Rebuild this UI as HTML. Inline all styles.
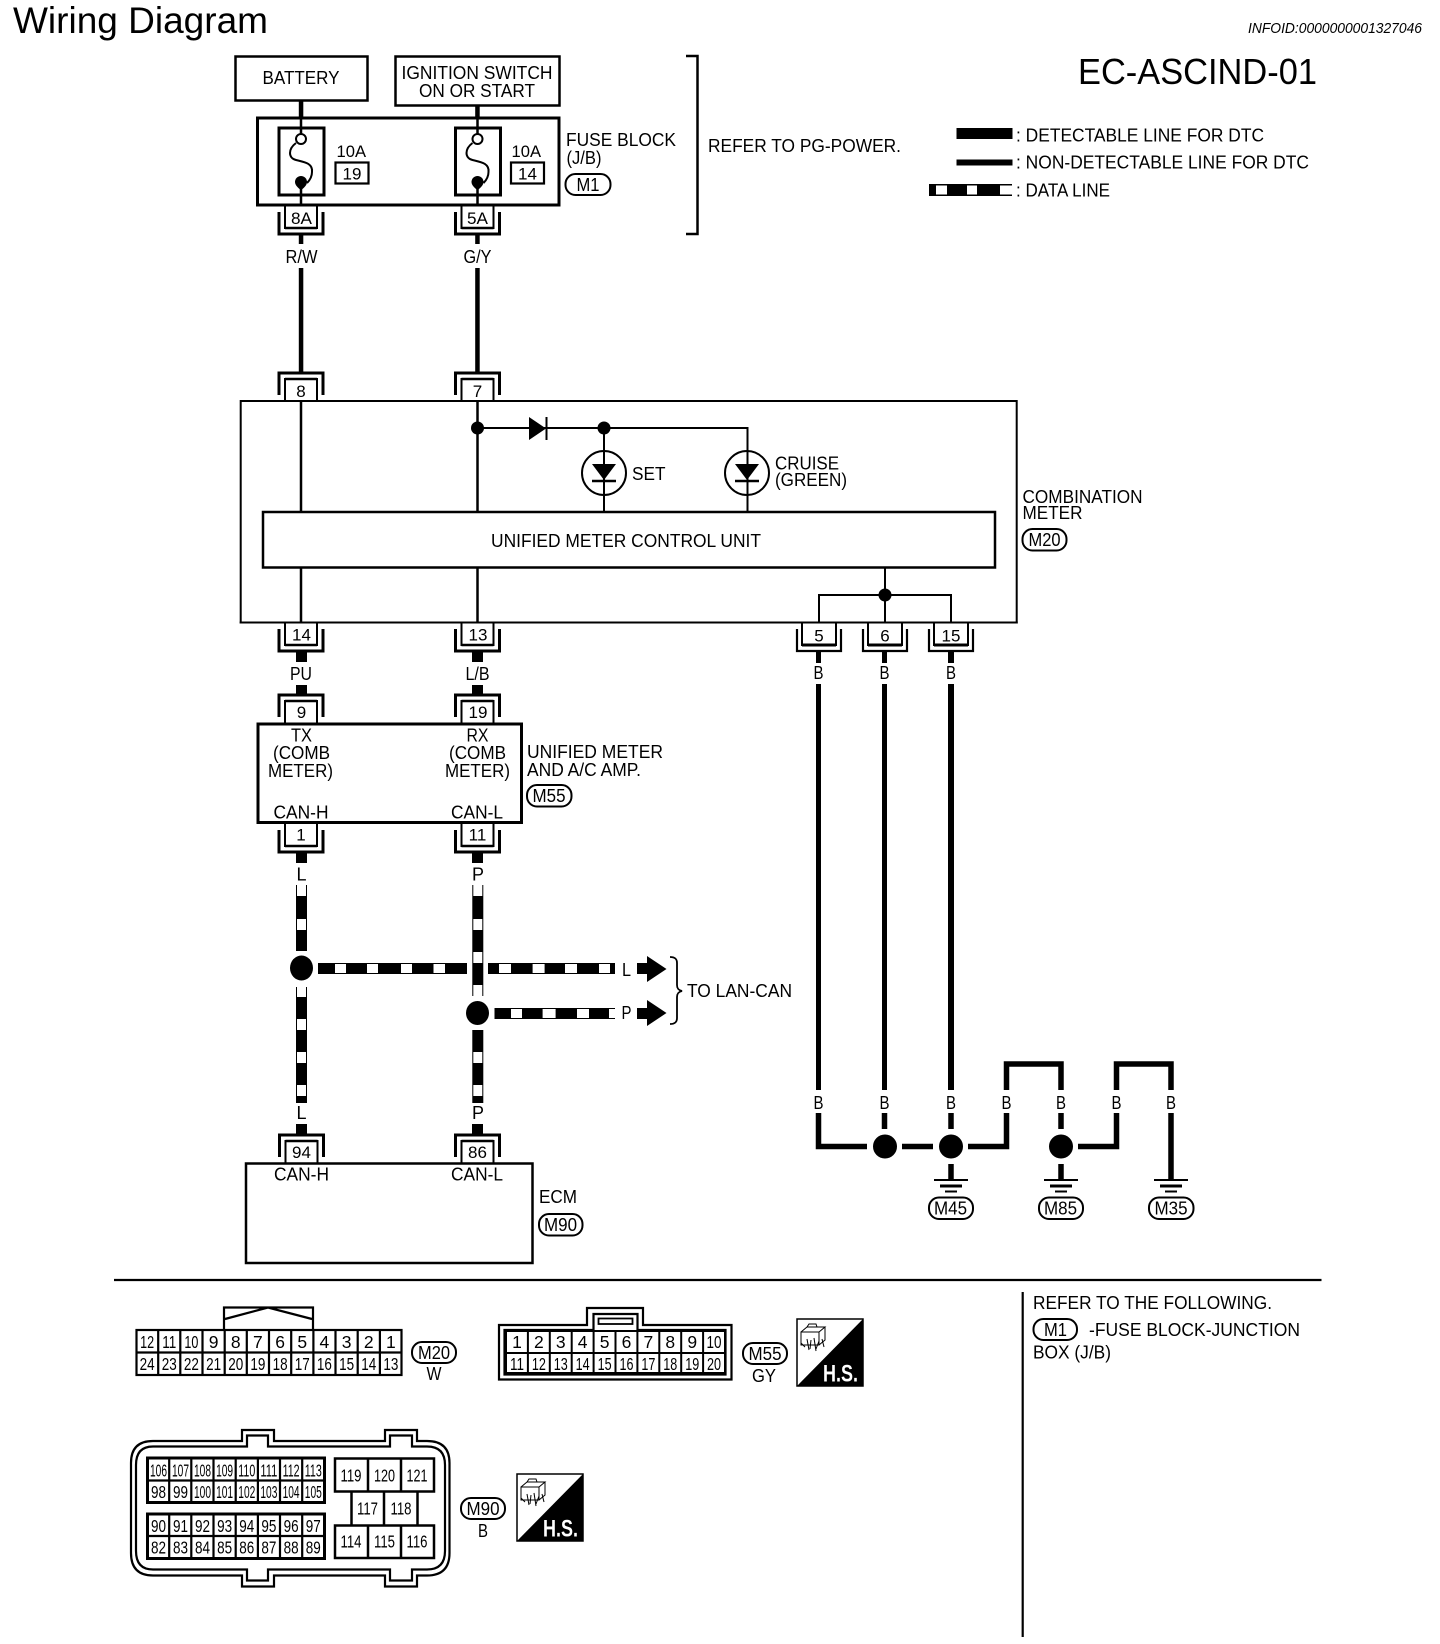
<!DOCTYPE html>
<html lang="en"><head><meta charset="utf-8"><title>Wiring Diagram EC-ASCIND-01</title>
<style>
html,body{margin:0;padding:0;background:#fff}
svg{display:block}
text{font-family:"Liberation Sans",sans-serif;font-size:18px;fill:#000}
.m{text-anchor:middle}
.n{font-size:17.500px;text-anchor:middle}
.c{font-size:17px;text-anchor:middle}
</style></head><body>
<svg xmlns="http://www.w3.org/2000/svg" width="1440" height="1644" viewBox="0 0 1440 1644">
<defs>
<g id="cd"><path d="M-22 7V29H22V7" fill="none" stroke="#000" stroke-width="3"/><path d="M-16 0V23H16V0" fill="#fff" stroke="#000" stroke-width="2"/><path d="M-16 23H16" stroke="#000" stroke-width="2.500"/></g>
<g id="cd2"><path d="M-22 7V29H22V7" fill="none" stroke="#000" stroke-width="2.200"/><path d="M-17 0V23H17V0" fill="#fff" stroke="#000" stroke-width="2"/><path d="M-17 23H17" stroke="#000" stroke-width="3"/></g>
<g id="cu"><path d="M-22 -6V-28H22V-6" fill="none" stroke="#000" stroke-width="3"/><path d="M-16 0V-22H16V0" fill="#fff" stroke="#000" stroke-width="2"/><path d="M-16 -22H16" stroke="#000" stroke-width="2.500"/></g>
<g id="fuse"><rect x="279" y="128" width="45" height="67" fill="#fff" stroke="#000" stroke-width="3"/><path d="M301 117V134M301 184V206" stroke="#000" stroke-width="2.500" fill="none"/><circle cx="301" cy="139" r="5" fill="#fff" stroke="#000" stroke-width="2"/><path d="M296 143C288 149 288 158 296 160C304 162 313 163 312 172C312 176 310 180 307 183" fill="none" stroke="#000" stroke-width="2"/><path d="M295 182a6 6 0 0 1 12 0c0 3-3 6-6 8c-3-2-6-5-6-8z" fill="#000"/></g>
<g id="led"><circle cx="0" cy="0" r="22" fill="none" stroke="#000" stroke-width="2"/><path d="M-12 -9H12L0 7Z" fill="#000"/><path d="M-12 8H12" stroke="#000" stroke-width="2.500"/></g>
<g id="gnd" stroke="#000" fill="none"><path d="M-17 0H17" stroke-width="2"/><path d="M-11 6H11" stroke-width="3"/><path d="M-6 11.500H6" stroke-width="2"/></g>
<g id="hs"><rect x="0" y="0" width="66" height="67" fill="#fff" stroke="#000" stroke-width="1.500"/><path d="M66 0V67H0Z" fill="#000"/><g fill="none" stroke="#000" stroke-width="1"><path d="M4 13H22V26H4ZM4 13L10 8H28L22 13M28 8V21L22 26M10 8L12 5H19L20 8M4 13V24L8 28"/><path d="M10 20L12 31M14 21L13 30M17 19L19 32M22 22L19 30M25 20L27 28"/></g></g>
</defs>

<!-- Headers -->
<text x="13" y="33" style="font-size:37px" textLength="255" lengthAdjust="spacingAndGlyphs">Wiring Diagram</text>
<text x="1248" y="33" style="font-size:14.500px;font-style:italic" textLength="174" lengthAdjust="spacingAndGlyphs">INFOID:0000000001327046</text>
<text x="1078" y="84" style="font-size:36px" textLength="239" lengthAdjust="spacingAndGlyphs">EC-ASCIND-01</text>

<!-- Legend -->
<rect x="956.500" y="128" width="56" height="11" fill="#000"/>
<rect x="956.500" y="159.500" width="56" height="6" fill="#000"/>
<rect x="929" y="184" width="83" height="12" fill="#000"/>
<rect x="936" y="185.500" width="11" height="9" fill="#fff"/><rect x="967" y="185.500" width="10" height="9" fill="#fff"/><rect x="1000" y="185.500" width="13" height="9" fill="#fff"/>
<text x="1016" y="141.500" textLength="248" lengthAdjust="spacingAndGlyphs">: DETECTABLE LINE FOR DTC</text>
<text x="1016" y="168.500" textLength="293" lengthAdjust="spacingAndGlyphs">: NON-DETECTABLE LINE FOR DTC</text>
<text x="1016" y="196.500" textLength="94" lengthAdjust="spacingAndGlyphs">: DATA LINE</text>

<!-- Supply boxes -->
<rect x="235.500" y="56.500" width="132" height="44" fill="#fff" stroke="#000" stroke-width="2.500"/>
<text class="m" x="301" y="84" textLength="77" lengthAdjust="spacingAndGlyphs">BATTERY</text>
<rect x="395.500" y="56.500" width="164" height="49" fill="#fff" stroke="#000" stroke-width="2.500"/>
<text class="m" x="477" y="79" textLength="151" lengthAdjust="spacingAndGlyphs">IGNITION SWITCH</text>
<text class="m" x="477" y="97" textLength="116" lengthAdjust="spacingAndGlyphs">ON OR START</text>
<rect x="298.800" y="100" width="4.500" height="18" fill="#000"/>
<rect x="475.200" y="105" width="4.500" height="13" fill="#000"/>

<!-- Fuse block -->
<rect x="257.500" y="118" width="301.500" height="87" fill="#fff" stroke="#000" stroke-width="3"/>
<use href="#fuse"/>
<use href="#fuse" x="176.500"/>
<text x="336.500" y="157" style="font-size:17px" textLength="29.500" lengthAdjust="spacingAndGlyphs">10A</text>
<rect x="335.500" y="162.500" width="33" height="21" fill="#fff" stroke="#000" stroke-width="2.200"/>
<text class="c" x="352" y="179.500">19</text>
<text x="511.500" y="157" style="font-size:17px" textLength="29.500" lengthAdjust="spacingAndGlyphs">10A</text>
<rect x="511" y="162.500" width="33" height="21" fill="#fff" stroke="#000" stroke-width="2.200"/>
<text class="c" x="527.500" y="179.500">14</text>
<text x="566" y="146" textLength="110" lengthAdjust="spacingAndGlyphs">FUSE BLOCK</text>
<text x="566.500" y="164" textLength="35" lengthAdjust="spacingAndGlyphs">(J/B)</text>
<rect x="565.500" y="174" width="45" height="21" rx="10" fill="#fff" stroke="#000" stroke-width="2"/>
<text class="m" x="588" y="191" textLength="23" lengthAdjust="spacingAndGlyphs">M1</text>

<!-- Bracket -->
<path d="M686 56H697.500V234H686" fill="none" stroke="#000" stroke-width="2.500"/>
<text x="708" y="152" textLength="193" lengthAdjust="spacingAndGlyphs">REFER TO PG-POWER.</text>

<!-- 8A / 5A -->
<use href="#cd" x="301" y="205"/><use href="#cd" x="477.500" y="205"/>
<path d="M256 205H560" stroke="#000" stroke-width="3"/>
<text class="c" x="301.500" y="224" textLength="21" lengthAdjust="spacingAndGlyphs">8A</text>
<text class="c" x="477.500" y="224" textLength="21" lengthAdjust="spacingAndGlyphs">5A</text>
<rect x="298.800" y="234" width="4.500" height="10" fill="#000"/>
<rect x="475.200" y="234" width="4.500" height="10" fill="#000"/>
<text class="m" x="301.500" y="263" textLength="32" lengthAdjust="spacingAndGlyphs">R/W</text>
<text class="m" x="477.500" y="263" textLength="28" lengthAdjust="spacingAndGlyphs">G/Y</text>
<rect x="298.800" y="268" width="4.500" height="105" fill="#000"/>
<rect x="475.200" y="268" width="4.500" height="105" fill="#000"/>
<use href="#cu" x="301" y="401"/><use href="#cu" x="477.500" y="401"/>
<text class="c" x="301" y="397">8</text>
<text class="c" x="477.500" y="397">7</text>

<!-- Combination meter -->
<rect x="240.700" y="401" width="776" height="221.500" fill="none" stroke="#000" stroke-width="2"/>
<path d="M301 401V512M477.500 401V512M301 568V622M477.500 568V622" stroke="#000" stroke-width="2.500" fill="none"/>
<path d="M477 428H747.500V512M604 428V512" stroke="#000" stroke-width="2" fill="none"/>
<ellipse cx="477.500" cy="428" rx="6.500" ry="6.500" fill="#000"/>
<circle cx="604" cy="428" r="6.500" fill="#000"/>
<path d="M529 417L546 428.500L529 440Z" fill="#000"/><path d="M546.500 417V440" stroke="#000" stroke-width="2"/>
<use href="#led" x="604" y="473"/><use href="#led" x="747" y="473"/>
<text x="632" y="480" textLength="33.500" lengthAdjust="spacingAndGlyphs">SET</text>
<text x="775" y="469.500" textLength="64" lengthAdjust="spacingAndGlyphs">CRUISE</text>
<text x="775" y="486" textLength="72" lengthAdjust="spacingAndGlyphs">(GREEN)</text>
<rect x="263" y="512" width="732" height="55.500" fill="#fff" stroke="#000" stroke-width="2.500"/>
<text x="491" y="547" textLength="270" lengthAdjust="spacingAndGlyphs">UNIFIED METER CONTROL UNIT</text>
<path d="M885 568V622M819 622V595H951V622" stroke="#000" stroke-width="2" fill="none"/>
<circle cx="885" cy="595" r="6.500" fill="#000"/>
<text x="1022.500" y="503" textLength="120" lengthAdjust="spacingAndGlyphs">COMBINATION</text>
<text x="1022.500" y="519" textLength="60" lengthAdjust="spacingAndGlyphs">METER</text>
<rect x="1022.500" y="529" width="44" height="21.500" rx="10" fill="#fff" stroke="#000" stroke-width="2"/>
<text class="m" x="1044.500" y="546" textLength="32" lengthAdjust="spacingAndGlyphs">M20</text>

<!-- Meter connectors -->
<use href="#cd" x="301" y="622"/><use href="#cd" x="477.500" y="622"/>
<use href="#cd2" x="819" y="622"/><use href="#cd2" x="885" y="622"/><use href="#cd2" x="951" y="622"/>
<path d="M239.700 622.500H1017.700" stroke="#000" stroke-width="2"/>
<text class="c" x="301.500" y="640.500">14</text>
<text class="c" x="478" y="640.500">13</text>
<text class="c" x="819" y="641.500">5</text>
<text class="c" x="885" y="641.500">6</text>
<text class="c" x="951" y="641.500">15</text>

<!-- PU / L/B -->
<rect x="296" y="651" width="11" height="11" fill="#000"/><rect x="472" y="651" width="11" height="11" fill="#000"/>
<text class="m" x="301" y="680" textLength="22" lengthAdjust="spacingAndGlyphs">PU</text>
<text class="m" x="477.500" y="680" textLength="24" lengthAdjust="spacingAndGlyphs">L/B</text>
<rect x="296" y="685" width="11" height="10" fill="#000"/><rect x="472" y="685" width="11" height="10" fill="#000"/>
<use href="#cu" x="301" y="723"/><use href="#cu" x="477.500" y="723"/>
<text class="c" x="301.500" y="718">9</text>
<text class="c" x="478" y="718">19</text>

<!-- Unified meter unit -->
<rect x="258" y="724" width="263.500" height="98.500" fill="#fff" stroke="#000" stroke-width="3"/>
<text class="m" x="301.500" y="741.500" textLength="21" lengthAdjust="spacingAndGlyphs">TX</text>
<text class="m" x="477.500" y="741.500" textLength="22" lengthAdjust="spacingAndGlyphs">RX</text>
<text class="m" x="301.500" y="759" textLength="57" lengthAdjust="spacingAndGlyphs">(COMB</text>
<text class="m" x="477.500" y="759" textLength="57" lengthAdjust="spacingAndGlyphs">(COMB</text>
<text class="m" x="300.500" y="777" textLength="65" lengthAdjust="spacingAndGlyphs">METER)</text>
<text class="m" x="477.500" y="777" textLength="65" lengthAdjust="spacingAndGlyphs">METER)</text>
<text class="m" x="301" y="818.500" textLength="55" lengthAdjust="spacingAndGlyphs">CAN-H</text>
<text class="m" x="477" y="818.500" textLength="52" lengthAdjust="spacingAndGlyphs">CAN-L</text>
<text x="527" y="758" textLength="136" lengthAdjust="spacingAndGlyphs">UNIFIED METER</text>
<text x="527" y="776" textLength="114" lengthAdjust="spacingAndGlyphs">AND A/C AMP.</text>
<rect x="527" y="785" width="44.500" height="21.500" rx="10" fill="#fff" stroke="#000" stroke-width="2"/>
<text class="m" x="549" y="802" textLength="33" lengthAdjust="spacingAndGlyphs">M55</text>
<use href="#cd" x="301" y="823"/><use href="#cd" x="477.500" y="823"/>
<path d="M256.500 822.500H523" stroke="#000" stroke-width="3"/>
<text class="c" x="301" y="840.500">1</text>
<text class="c" x="477.500" y="840.500">11</text>
<rect x="296" y="852" width="11" height="11" fill="#000"/><rect x="472" y="852" width="11" height="11" fill="#000"/>
<text class="m" x="301.500" y="880.500">L</text><text class="m" x="478" y="880.500">P</text>

<!-- Data lines vertical 1 -->
<rect x="296" y="885" width="11" height="66" fill="#000"/>
<rect x="297" y="885" width="9" height="11" fill="#fff"/><rect x="297" y="919" width="9" height="11" fill="#fff"/>
<rect x="296" y="987" width="11" height="116" fill="#000"/>
<rect x="297" y="987" width="9" height="10" fill="#fff"/><rect x="297" y="1019" width="9" height="11" fill="#fff"/><rect x="297" y="1052" width="9" height="11" fill="#fff"/><rect x="297" y="1085" width="9" height="11" fill="#fff"/>
<ellipse cx="301.500" cy="968" rx="11.500" ry="12.500" fill="#000"/>

<!-- Data lines vertical 2 -->
<rect x="472.300" y="885" width="11" height="111" fill="#000"/>
<rect x="473.300" y="885" width="9" height="11" fill="#fff"/><rect x="473.300" y="919" width="9" height="11" fill="#fff"/><rect x="473.300" y="952" width="9" height="11" fill="#fff"/><rect x="473.300" y="985" width="9" height="11" fill="#fff"/>
<rect x="472.300" y="1030" width="11" height="73" fill="#000"/>
<rect x="473.300" y="1052" width="9" height="11" fill="#fff"/><rect x="473.300" y="1085" width="9" height="11" fill="#fff"/>
<ellipse cx="477.500" cy="1013" rx="11.500" ry="12" fill="#000"/>

<!-- Data lines horizontal L -->
<rect x="318" y="963" width="149" height="11" fill="#000"/>
<rect x="335" y="964" width="11" height="9" fill="#fff"/><rect x="367" y="964" width="11" height="9" fill="#fff"/><rect x="401" y="964" width="11" height="9" fill="#fff"/><rect x="433.500" y="964" width="11.500" height="9" fill="#fff"/>
<rect x="488" y="963" width="127" height="11" fill="#000"/>
<rect x="499" y="964" width="12" height="9" fill="#fff"/><rect x="532.600" y="964" width="12" height="9" fill="#fff"/><rect x="565" y="964" width="12" height="9" fill="#fff"/><rect x="599" y="964" width="11" height="9" fill="#fff"/>
<!-- horizontal P -->
<rect x="494.500" y="1008" width="120.500" height="11" fill="#000"/>
<rect x="511" y="1009" width="11" height="9" fill="#fff"/><rect x="542.600" y="1009" width="13" height="9" fill="#fff"/><rect x="577" y="1009" width="12" height="9" fill="#fff"/><rect x="609" y="1009" width="7" height="9" fill="#fff"/>

<text x="622" y="976" textLength="9" lengthAdjust="spacingAndGlyphs">L</text>
<text x="621.500" y="1019" textLength="10" lengthAdjust="spacingAndGlyphs">P</text>
<path d="M637 963H647V956L666.500 969L647 982V974H637Z" fill="#000"/>
<path d="M637 1008H647V1000L666.500 1013L647 1026V1019H637Z" fill="#000"/>
<path d="M670 957C675 957 677 959 677 963V985C677 988 678 990 682 991C678 992 677 994 677 997V1018C677 1022 675 1024 670 1024" fill="none" stroke="#000" stroke-width="1.800"/>
<text x="687" y="997" textLength="105" lengthAdjust="spacingAndGlyphs">TO LAN-CAN</text>

<!-- ECM -->
<text class="m" x="301.500" y="1119">L</text><text class="m" x="478" y="1119">P</text>
<rect x="296" y="1124" width="11" height="11" fill="#000"/><rect x="472" y="1124" width="11" height="11" fill="#000"/>
<use href="#cu" x="301.500" y="1163"/><use href="#cu" x="477.500" y="1163"/>
<text class="c" x="301.500" y="1158">94</text>
<text class="c" x="477.500" y="1158">86</text>
<rect x="246" y="1163.500" width="286.500" height="99.500" fill="#fff" stroke="#000" stroke-width="2.500"/>
<text class="m" x="301.500" y="1180.500" textLength="55" lengthAdjust="spacingAndGlyphs">CAN-H</text>
<text class="m" x="477" y="1180.500" textLength="52" lengthAdjust="spacingAndGlyphs">CAN-L</text>
<text x="539" y="1203" textLength="38" lengthAdjust="spacingAndGlyphs">ECM</text>
<rect x="539" y="1214" width="43.500" height="21.500" rx="10" fill="#fff" stroke="#000" stroke-width="2"/>
<text class="m" x="560.500" y="1231" textLength="33" lengthAdjust="spacingAndGlyphs">M90</text>

<!-- Ground wires -->
<g fill="#000">
<rect x="816" y="651" width="5" height="12"/><rect x="882" y="651" width="5" height="12"/><rect x="948" y="651" width="6" height="12"/>
<rect x="816" y="684" width="5" height="406"/><rect x="882" y="684" width="5" height="406"/><rect x="948" y="684" width="6" height="406"/>
</g>
<text class="m" x="818.500" y="679" textLength="10" lengthAdjust="spacingAndGlyphs">B</text>
<text class="m" x="884.500" y="679" textLength="10" lengthAdjust="spacingAndGlyphs">B</text>
<text class="m" x="951" y="679" textLength="10" lengthAdjust="spacingAndGlyphs">B</text>
<text class="m" x="818.500" y="1109" textLength="10" lengthAdjust="spacingAndGlyphs">B</text>
<text class="m" x="884.500" y="1109" textLength="10" lengthAdjust="spacingAndGlyphs">B</text>
<text class="m" x="951" y="1109" textLength="10" lengthAdjust="spacingAndGlyphs">B</text>
<text class="m" x="1006.500" y="1109" textLength="10" lengthAdjust="spacingAndGlyphs">B</text>
<text class="m" x="1061" y="1109" textLength="10" lengthAdjust="spacingAndGlyphs">B</text>
<text class="m" x="1116.500" y="1109" textLength="10" lengthAdjust="spacingAndGlyphs">B</text>
<text class="m" x="1171" y="1109" textLength="10" lengthAdjust="spacingAndGlyphs">B</text>
<g fill="none" stroke="#000" stroke-width="5.500">
<path d="M818.500 1113V1146.500H867"/>
<path d="M884.500 1113V1129"/>
<path d="M902 1146.500H933"/>
<path d="M951 1113V1129"/>
<path d="M968 1146.500H1006.500V1113"/>
<path d="M1006.500 1090V1064H1061V1090"/>
<path d="M1061 1113V1129"/>
<path d="M1078 1146.500H1116.500V1113"/>
<path d="M1116.500 1090V1064H1171V1090"/>
<path d="M1171 1113V1180"/>
<path d="M951 1164V1180"/>
<path d="M1061 1164V1180"/>
</g>
<circle cx="885" cy="1146.500" r="12" fill="#000"/><circle cx="951" cy="1146.500" r="12" fill="#000"/><circle cx="1061" cy="1146.500" r="12" fill="#000"/>
<use href="#gnd" x="951" y="1180"/><use href="#gnd" x="1061" y="1180"/><use href="#gnd" x="1171" y="1180"/>
<rect x="929" y="1197.500" width="44" height="21.500" rx="10" fill="#fff" stroke="#000" stroke-width="2"/>
<text class="m" x="950.500" y="1214.500" textLength="33" lengthAdjust="spacingAndGlyphs">M45</text>
<rect x="1039" y="1197.500" width="44" height="21.500" rx="10" fill="#fff" stroke="#000" stroke-width="2"/>
<text class="m" x="1060.500" y="1214.500" textLength="33" lengthAdjust="spacingAndGlyphs">M85</text>
<rect x="1149" y="1197.500" width="44.500" height="21.500" rx="10" fill="#fff" stroke="#000" stroke-width="2"/>
<text class="m" x="1171" y="1214.500" textLength="33" lengthAdjust="spacingAndGlyphs">M35</text>

<!-- Dividers -->
<path d="M114 1280H1321.500" stroke="#000" stroke-width="2.200"/>
<path d="M1022.700 1292V1637" stroke="#000" stroke-width="2.200"/>
<text x="1033" y="1309" textLength="239" lengthAdjust="spacingAndGlyphs">REFER TO THE FOLLOWING.</text>
<rect x="1033.500" y="1319" width="43.500" height="21" rx="10" fill="#fff" stroke="#000" stroke-width="2"/>
<text class="m" x="1055.500" y="1336" textLength="23" lengthAdjust="spacingAndGlyphs">M1</text>
<text x="1089" y="1336" textLength="211" lengthAdjust="spacingAndGlyphs">-FUSE BLOCK-JUNCTION</text>
<text x="1033" y="1358.500" textLength="78" lengthAdjust="spacingAndGlyphs">BOX (J/B)</text>

<!-- M20 connector -->
<path d="M224 1329V1307.500H313V1329M225 1319L268 1307.500L312 1319" fill="none" stroke="#000" stroke-width="2.200"/>
<rect x="136.500" y="1330" width="265" height="45" fill="#fff" stroke="#000" stroke-width="2.200"/>
<path d="M136 1352.500H402M158.200 1330V1375M180.300 1330V1375M202.500 1330V1375M224.700 1330V1375M246.800 1330V1375M269 1330V1375M291.200 1330V1375M313.400 1330V1375M335.500 1330V1375M357.700 1330V1375M379.900 1330V1375" stroke="#000" stroke-width="2.200" fill="none"/>
<g>
<text class="n" x="147.100" y="1348" textLength="14" lengthAdjust="spacingAndGlyphs">12</text><text class="n" x="169.300" y="1348" textLength="14" lengthAdjust="spacingAndGlyphs">11</text><text class="n" x="191.400" y="1348" textLength="14" lengthAdjust="spacingAndGlyphs">10</text><text class="n" x="213.600" y="1348">9</text><text class="n" x="235.800" y="1348">8</text><text class="n" x="257.900" y="1348">7</text><text class="n" x="280.100" y="1348">6</text><text class="n" x="302.300" y="1348">5</text><text class="n" x="324.400" y="1348">4</text><text class="n" x="346.600" y="1348">3</text><text class="n" x="368.800" y="1348">2</text><text class="n" x="390.900" y="1348">1</text>
<text class="n" x="147.100" y="1370" textLength="15" lengthAdjust="spacingAndGlyphs">24</text><text class="n" x="169.300" y="1370" textLength="15" lengthAdjust="spacingAndGlyphs">23</text><text class="n" x="191.400" y="1370" textLength="15" lengthAdjust="spacingAndGlyphs">22</text><text class="n" x="213.600" y="1370" textLength="15" lengthAdjust="spacingAndGlyphs">21</text><text class="n" x="235.800" y="1370" textLength="15" lengthAdjust="spacingAndGlyphs">20</text><text class="n" x="257.900" y="1370" textLength="15" lengthAdjust="spacingAndGlyphs">19</text><text class="n" x="280.100" y="1370" textLength="15" lengthAdjust="spacingAndGlyphs">18</text><text class="n" x="302.300" y="1370" textLength="15" lengthAdjust="spacingAndGlyphs">17</text><text class="n" x="324.400" y="1370" textLength="15" lengthAdjust="spacingAndGlyphs">16</text><text class="n" x="346.600" y="1370" textLength="15" lengthAdjust="spacingAndGlyphs">15</text><text class="n" x="368.800" y="1370" textLength="15" lengthAdjust="spacingAndGlyphs">14</text><text class="n" x="390.900" y="1370" textLength="15" lengthAdjust="spacingAndGlyphs">13</text>
</g>
<rect x="412" y="1342" width="44" height="21" rx="10" fill="#fff" stroke="#000" stroke-width="2"/>
<text class="m" x="434" y="1359" textLength="32" lengthAdjust="spacingAndGlyphs">M20</text>
<text class="m" x="434" y="1380" textLength="15" lengthAdjust="spacingAndGlyphs">W</text>

<!-- M55 connector -->
<path d="M587 1325V1308H643V1325H731.500V1379.500H499V1325Z" fill="#fff" stroke="#000" stroke-width="2.200"/>
<path d="M593.500 1330V1314H637.500V1330H725.500V1374.500H504.500V1330Z" fill="#fff" stroke="#000" stroke-width="2.200"/>
<rect x="598.500" y="1318.500" width="34" height="5.500" fill="#fff" stroke="#000" stroke-width="1.800"/>
<rect x="506" y="1331" width="219" height="42" fill="#fff" stroke="#000" stroke-width="2"/>
<path d="M506 1353H725M527.900 1331V1373M549.800 1331V1373M571.700 1331V1373M593.600 1331V1373M615.500 1331V1373M637.400 1331V1373M659.300 1331V1373M681.200 1331V1373M703.100 1331V1373" stroke="#000" stroke-width="2" fill="none"/>
<g>
<text class="n" x="517" y="1348">1</text><text class="n" x="538.900" y="1348">2</text><text class="n" x="560.800" y="1348">3</text><text class="n" x="582.600" y="1348">4</text><text class="n" x="604.600" y="1348">5</text><text class="n" x="626.500" y="1348">6</text><text class="n" x="648.400" y="1348">7</text><text class="n" x="670.300" y="1348">8</text><text class="n" x="692.200" y="1348">9</text><text class="n" x="714" y="1348" textLength="15" lengthAdjust="spacingAndGlyphs">10</text>
<text class="n" x="517" y="1370" textLength="14" lengthAdjust="spacingAndGlyphs">11</text><text class="n" x="538.900" y="1370" textLength="14" lengthAdjust="spacingAndGlyphs">12</text><text class="n" x="560.800" y="1370" textLength="14" lengthAdjust="spacingAndGlyphs">13</text><text class="n" x="582.600" y="1370" textLength="14" lengthAdjust="spacingAndGlyphs">14</text><text class="n" x="604.600" y="1370" textLength="14" lengthAdjust="spacingAndGlyphs">15</text><text class="n" x="626.500" y="1370" textLength="14" lengthAdjust="spacingAndGlyphs">16</text><text class="n" x="648.400" y="1370" textLength="14" lengthAdjust="spacingAndGlyphs">17</text><text class="n" x="670.300" y="1370" textLength="14" lengthAdjust="spacingAndGlyphs">18</text><text class="n" x="692.200" y="1370" textLength="14" lengthAdjust="spacingAndGlyphs">19</text><text class="n" x="714" y="1370" textLength="14" lengthAdjust="spacingAndGlyphs">20</text>
</g>
<rect x="743" y="1343" width="44" height="21" rx="10" fill="#fff" stroke="#000" stroke-width="2"/>
<text class="m" x="765" y="1360" textLength="33" lengthAdjust="spacingAndGlyphs">M55</text>
<text class="m" x="764" y="1382" textLength="24" lengthAdjust="spacingAndGlyphs">GY</text>
<use href="#hs" x="797" y="1319"/>
<text x="823" y="1381.500" style="font-size:24px;font-weight:bold;fill:#fff" textLength="35" lengthAdjust="spacingAndGlyphs">H.S.</text>

<!-- M90 connector -->
<path d="M153 1441H242V1430H274V1441H385V1430H417V1441H427Q449.500 1441 449.500 1463V1553Q449.500 1575.500 427 1575.500H417V1586.500H385V1575.500H274V1586.500H242V1575.500H153Q131 1575.500 131 1553V1463Q131 1441 153 1441Z" fill="#fff" stroke="#000" stroke-width="2.200"/>
<path d="M153 1446.500H247V1435.500H268V1446.500H390V1435.500H412V1446.500H427Q445 1446.500 445 1465V1551Q445 1569.500 427 1569.500H412V1580.500H390V1569.500H268V1580.500H247V1569.500H153Q136 1569.500 136 1551V1465Q136 1446.500 153 1446.500Z" fill="#fff" stroke="#000" stroke-width="2.200"/>
<rect x="147.500" y="1458" width="177" height="44.500" fill="#fff" stroke="#000" stroke-width="3"/>
<rect x="147.500" y="1514" width="177" height="44.500" fill="#fff" stroke="#000" stroke-width="3"/>
<path d="M147 1480.500H325M147 1536H325M169.200 1458V1502M191.300 1458V1502M213.500 1458V1502M235.700 1458V1502M257.900 1458V1502M280 1458V1502M302.200 1458V1502M169.200 1514V1558M191.300 1514V1558M213.500 1514V1558M235.700 1514V1558M257.900 1514V1558M280 1514V1558M302.200 1514V1558" stroke="#000" stroke-width="2.200" fill="none"/>
<g>
<text class="n" x="158.500" y="1476.500" textLength="17" lengthAdjust="spacingAndGlyphs">106</text><text class="n" x="180.500" y="1476.500" textLength="17" lengthAdjust="spacingAndGlyphs">107</text><text class="n" x="202.500" y="1476.500" textLength="17" lengthAdjust="spacingAndGlyphs">108</text><text class="n" x="224.600" y="1476.500" textLength="17" lengthAdjust="spacingAndGlyphs">109</text><text class="n" x="246.800" y="1476.500" textLength="17" lengthAdjust="spacingAndGlyphs">110</text><text class="n" x="268.900" y="1476.500" textLength="17" lengthAdjust="spacingAndGlyphs">111</text><text class="n" x="291.100" y="1476.500" textLength="17" lengthAdjust="spacingAndGlyphs">112</text><text class="n" x="313.300" y="1476.500" textLength="17" lengthAdjust="spacingAndGlyphs">113</text>
<text class="n" x="158.500" y="1498" textLength="15" lengthAdjust="spacingAndGlyphs">98</text><text class="n" x="180.500" y="1498" textLength="15" lengthAdjust="spacingAndGlyphs">99</text><text class="n" x="202.500" y="1498" textLength="17" lengthAdjust="spacingAndGlyphs">100</text><text class="n" x="224.600" y="1498" textLength="17" lengthAdjust="spacingAndGlyphs">101</text><text class="n" x="246.800" y="1498" textLength="17" lengthAdjust="spacingAndGlyphs">102</text><text class="n" x="268.900" y="1498" textLength="17" lengthAdjust="spacingAndGlyphs">103</text><text class="n" x="291.100" y="1498" textLength="17" lengthAdjust="spacingAndGlyphs">104</text><text class="n" x="313.300" y="1498" textLength="17" lengthAdjust="spacingAndGlyphs">105</text>
<text class="n" x="158.500" y="1532" textLength="15" lengthAdjust="spacingAndGlyphs">90</text><text class="n" x="180.500" y="1532" textLength="15" lengthAdjust="spacingAndGlyphs">91</text><text class="n" x="202.500" y="1532" textLength="15" lengthAdjust="spacingAndGlyphs">92</text><text class="n" x="224.600" y="1532" textLength="15" lengthAdjust="spacingAndGlyphs">93</text><text class="n" x="246.800" y="1532" textLength="15" lengthAdjust="spacingAndGlyphs">94</text><text class="n" x="268.900" y="1532" textLength="15" lengthAdjust="spacingAndGlyphs">95</text><text class="n" x="291.100" y="1532" textLength="15" lengthAdjust="spacingAndGlyphs">96</text><text class="n" x="313.300" y="1532" textLength="15" lengthAdjust="spacingAndGlyphs">97</text>
<text class="n" x="158.500" y="1553.500" textLength="15" lengthAdjust="spacingAndGlyphs">82</text><text class="n" x="180.500" y="1553.500" textLength="15" lengthAdjust="spacingAndGlyphs">83</text><text class="n" x="202.500" y="1553.500" textLength="15" lengthAdjust="spacingAndGlyphs">84</text><text class="n" x="224.600" y="1553.500" textLength="15" lengthAdjust="spacingAndGlyphs">85</text><text class="n" x="246.800" y="1553.500" textLength="15" lengthAdjust="spacingAndGlyphs">86</text><text class="n" x="268.900" y="1553.500" textLength="15" lengthAdjust="spacingAndGlyphs">87</text><text class="n" x="291.100" y="1553.500" textLength="15" lengthAdjust="spacingAndGlyphs">88</text><text class="n" x="313.300" y="1553.500" textLength="15" lengthAdjust="spacingAndGlyphs">89</text>
</g>
<path d="M335 1458.500H434V1491.500H335ZM351.500 1491.500H417.500V1525.500H351.500ZM335 1525.500H434V1558H335ZM368 1458.500V1491.500M401 1458.500V1491.500M384 1491.500V1525.500M368 1525.500V1558M401 1525.500V1558" fill="#fff" stroke="#000" stroke-width="2.500"/>
<text class="n" x="351" y="1481.500" textLength="21" lengthAdjust="spacingAndGlyphs">119</text><text class="n" x="384.500" y="1481.500" textLength="21" lengthAdjust="spacingAndGlyphs">120</text><text class="n" x="417" y="1481.500" textLength="21" lengthAdjust="spacingAndGlyphs">121</text>
<text class="n" x="367.500" y="1514.500" textLength="21" lengthAdjust="spacingAndGlyphs">117</text><text class="n" x="401" y="1514.500" textLength="21" lengthAdjust="spacingAndGlyphs">118</text>
<text class="n" x="351" y="1547.500" textLength="21" lengthAdjust="spacingAndGlyphs">114</text><text class="n" x="384.500" y="1547.500" textLength="21" lengthAdjust="spacingAndGlyphs">115</text><text class="n" x="417" y="1547.500" textLength="21" lengthAdjust="spacingAndGlyphs">116</text>
<rect x="461" y="1498" width="44" height="21" rx="10" fill="#fff" stroke="#000" stroke-width="2"/>
<text class="m" x="483" y="1515" textLength="33" lengthAdjust="spacingAndGlyphs">M90</text>
<text class="m" x="483" y="1537" textLength="10" lengthAdjust="spacingAndGlyphs">B</text>
<use href="#hs" x="517" y="1474"/>
<text x="543" y="1536.500" style="font-size:24px;font-weight:bold;fill:#fff" textLength="35" lengthAdjust="spacingAndGlyphs">H.S.</text>
</svg>
</body></html>
